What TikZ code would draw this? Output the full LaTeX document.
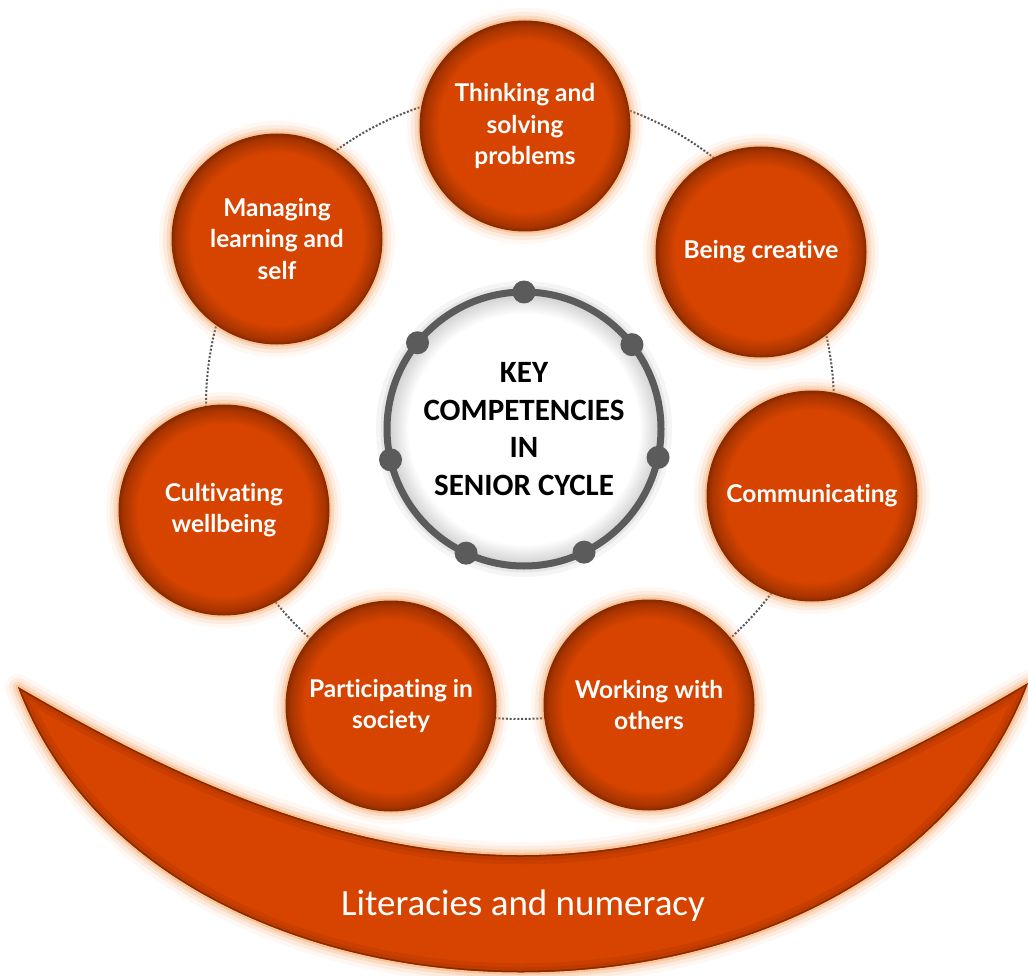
\documentclass[tikz,border=0pt]{standalone}
\usepackage{fontspec}
\newfontfamily\latof{Lato}[Ligatures={NoCommon}]
\newfontfamily\carl{Carlito}
\definecolor{ofill}{HTML}{D64400}
\definecolor{odark}{HTML}{A83400}
\definecolor{oedge}{HTML}{8A2A00}
\definecolor{oglow}{HTML}{F49A50}
\definecolor{ringgray}{HTML}{5B5B5B}
\definecolor{dotgray}{HTML}{555555}
\pgfdeclareradialshading{orb}{\pgfpoint{0bp}{0bp}}{color(0bp)=(ofill); color(20.5bp)=(ofill); color(24bp)=(odark); color(25bp)=(oedge); color(50bp)=(oedge)}
\pgfdeclareradialshading{coreshade}{\pgfpoint{0bp}{0bp}}{color(0bp)=(white); color(21bp)=(white); color(25bp)=(black!20); color(50bp)=(black!20)}
\newcommand\crespath[1]{\path[#1] (18,687) .. controls (403,912) and (643,912) .. (1028,683) .. controls (884,1068) and (162,1068) .. cycle;}
\tikzset{
  comp/.style={circle, minimum size=210pt, inner sep=0pt, outer sep=0pt,
    shade, shading=orb, draw=oedge, line width=1pt, text=white, align=center,
    font=\latof\bfseries\fontsize{24.5}{31.5}\selectfont,
    preaction={draw=oglow, line width=26pt, opacity=0.07},
    preaction={draw=oglow, line width=18pt, opacity=0.12},
    preaction={draw=oglow, line width=11pt, opacity=0.2},
    preaction={draw=oglow, line width=5pt, opacity=0.35}},
  core/.style={circle, minimum size=274pt, inner sep=0pt, outer sep=0pt,
    shade, shading=coreshade, draw=ringgray, line width=7pt, align=center,
    font=\carl\bfseries\fontsize{31}{37.5}\selectfont,
    preaction={draw=black, line width=22pt, opacity=0.04},
    preaction={draw=black, line width=13pt, opacity=0.06}},
  dotring/.style={draw=dotgray, line width=2pt, dash pattern=on 2pt off 1.8pt},
  ringdot/.style={fill=ringgray},
  littext/.style={text=white, font=\carl\fontsize{37}{40}\selectfont}
}
\begin{document}
\begin{tikzpicture}[x=1pt, y=-1pt]
\useasboundingbox (0,0) rectangle (1028,976);
\fill[white] (0,0) rectangle (1028,976);
% crescent
\crespath{draw=oglow, line width=26pt, opacity=0.07, line join=round}
\crespath{draw=oglow, line width=18pt, opacity=0.12, line join=round}
\crespath{draw=oglow, line width=11pt, opacity=0.2, line join=round}
\crespath{draw=oglow, line width=5pt, opacity=0.35, line join=round}
\crespath{fill=ofill}
\begin{scope}
\crespath{clip}
\crespath{draw=odark, line width=18pt, opacity=0.25}
\crespath{draw=odark, line width=10pt, opacity=0.35}
\crespath{draw=oedge, line width=3pt}
\end{scope}
\node[littext] (lit) at (523,906) {Literacies and numeracy};
% dotted ring
\coordinate (dring) at (520,405);
\draw[dotring] (dring) circle (314);
% competencies
\node[comp] (think) at (525,126) {Thinking and\\solving\\problems};
\node[comp] (creat) at (761,252) {Being creative};
\node[comp] (comm)  at (812,496) {Communicating};
\node[comp] (work)  at (649,705) {Working with\\others};
\node[comp] (part)  at (391,706) {Participating in\\society};
\node[comp] (cult)  at (224,510) {Cultivating\\wellbeing};
\node[comp] (manage) at (277,239) {Managing\\learning and\\self};
% centre
\node[core] (core) at (524,429) {KEY\\COMPETENCIES\\IN\\SENIOR CYCLE};
\foreach \a in {90, 38.57, -12.86, -64.29, -115.71, -167.14, 141.43}
  \fill[ringdot] (core.\a) circle (11.5);
\end{tikzpicture}
\end{document}
